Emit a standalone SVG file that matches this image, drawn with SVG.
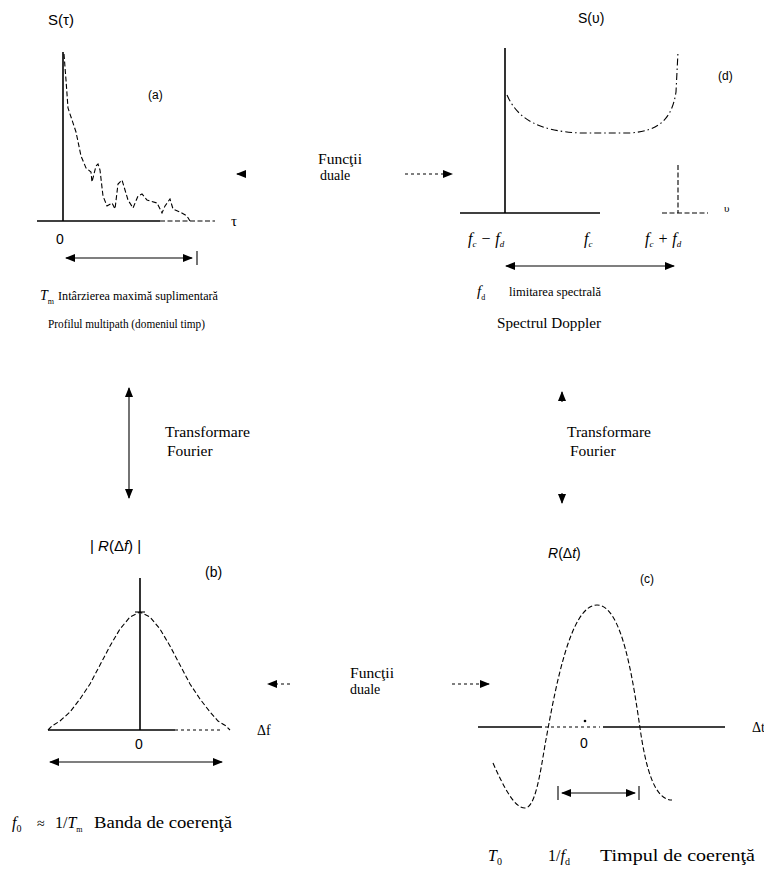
<svg xmlns="http://www.w3.org/2000/svg" width="764" height="872" viewBox="0 0 764 872">
<style>
.serif{font-family:"Liberation Serif","Times New Roman",serif;fill:#000}
.sans{font-family:"Liberation Sans",Arial,sans-serif;fill:#000}
.axis{stroke:#000;stroke-width:1.6;fill:none}
.thin{stroke:#000;stroke-width:1.1;fill:none}
.dash{stroke:#000;stroke-width:1.1;fill:none;stroke-dasharray:5 2.5}
.dashdot{stroke:#000;stroke-width:1.1;fill:none;stroke-dasharray:7 3 1.5 3}
.dot{stroke:#000;stroke-width:1.1;fill:none;stroke-dasharray:3 3}
.it{font-style:italic}
</style>
<defs>
<marker id="ah" viewBox="0 0 10 8" refX="9" refY="4" markerWidth="10" markerHeight="8" markerUnits="userSpaceOnUse" orient="auto-start-reverse">
<path d="M0,0 L10,4 L0,8 Z" fill="#000"/>
</marker>
</defs>

<g id="panel-a">
<text class="sans" x="48" y="25" font-size="15">S(τ)</text>
<text class="sans" x="148" y="99" font-size="12">(a)</text>
<line class="axis" x1="63" y1="52" x2="63" y2="221"/>
<line class="axis" x1="37" y1="221" x2="160" y2="221"/>
<line class="dash" x1="160" y1="221" x2="215" y2="221"/>
<text class="serif" x="231" y="226" font-size="15">τ</text>
<polyline class="dash" points="64,54 66,80 68,108 72,120 76,132 81,156 86,168 91,172 92,182 96,166 98,164 100,170 103,196 107,206 112,203 115,209 118,184 122,180 125,190 128,200 133,208 138,196 142,194 147,200 157,203 162,213 165,206 170,199 173,209 180,212 187,216 190,221"/>
<text class="sans" x="56" y="244" font-size="14">0</text>
<line class="thin" x1="66" y1="258" x2="192" y2="258" marker-start="url(#ah)" marker-end="url(#ah)"/>
<line class="thin" x1="197" y1="251" x2="197" y2="265"/>
<text class="serif it" x="40" y="300" font-size="14">T<tspan font-size="8" font-style="normal" dy="4">m</tspan></text>
<text class="serif" x="58" y="300" font-size="12.5" textLength="160" lengthAdjust="spacingAndGlyphs">Intârzierea maximă suplimentară</text>
<text class="serif" x="48" y="328" font-size="12" textLength="157" lengthAdjust="spacingAndGlyphs">Profilul multipath (domeniul timp)</text>
</g>

<g id="panel-d">
<text class="sans" x="578" y="23" font-size="14">S(υ)</text>
<text class="sans" x="718" y="80" font-size="12">(d)</text>
<line class="axis" x1="505" y1="48" x2="505" y2="213"/>
<line class="axis" x1="460" y1="213" x2="600" y2="213"/>
<line class="dash" x1="662" y1="213" x2="708" y2="213"/>
<line class="dash" x1="678" y1="165" x2="678" y2="213"/>
<text class="serif" x="724" y="212" font-size="11">υ</text>
<path class="dashdot" d="M507,95 C518,120 540,131 580,133 L630,133 C660,131 672,118 676,92 L678,52"/>
<text class="serif it" x="468" y="244" font-size="16">f<tspan font-size="9" dy="3">c</tspan><tspan dy="-3"> − f</tspan><tspan font-size="9" dy="3">d</tspan></text>
<text class="serif it" x="584" y="244" font-size="16">f<tspan font-size="9" dy="3">c</tspan></text>
<text class="serif it" x="645" y="244" font-size="16">f<tspan font-size="9" dy="3">c</tspan><tspan dy="-3"> + f</tspan><tspan font-size="9" dy="3">d</tspan></text>
<line class="thin" x1="506" y1="266" x2="674" y2="266" marker-start="url(#ah)" marker-end="url(#ah)"/>
<text class="serif it" x="477" y="296" font-size="15">f<tspan font-size="8" font-style="normal" dy="4">d</tspan></text>
<text class="serif" x="509" y="296" font-size="12.5" textLength="92" lengthAdjust="spacingAndGlyphs">limitarea spectrală</text>
<text class="serif" x="497" y="328" font-size="14.5" textLength="104" lengthAdjust="spacingAndGlyphs">Spectrul Doppler</text>
</g>

<g id="panel-b">
<text class="sans" x="90" y="551" font-size="15">| <tspan class="it">R</tspan>(Δ<tspan class="it">f</tspan>) |</text>
<text class="sans" x="205" y="577" font-size="14">(b)</text>
<line class="axis" x1="140" y1="578" x2="140" y2="730"/>
<line class="axis" x1="48" y1="730" x2="175" y2="730"/>
<line class="dot" x1="175" y1="730" x2="222" y2="730"/>
<line class="thin" x1="135" y1="612" x2="145" y2="612"/>
<polyline class="dash" points="48,730 52,726 60,721 70,712 80,699 90,684 100,665 110,646 120,629 130,617 140,612 150,617 160,629 170,646 180,665 190,684 200,699 210,712 218,721 226,726 230,730"/>
<text class="sans" x="135" y="749" font-size="14">0</text>
<line class="thin" x1="50" y1="762" x2="222" y2="762" marker-start="url(#ah)" marker-end="url(#ah)"/>
<text class="serif" x="257" y="735" font-size="14">Δf</text>
<text class="serif it" x="12" y="828" font-size="16">f<tspan font-size="10" font-style="normal" dy="4">0</tspan></text>
<text class="serif" x="37" y="828" font-size="14">≈</text>
<text class="serif" x="55" y="828" font-size="16">1/<tspan class="it">T</tspan><tspan font-size="8" dy="4">m</tspan></text>
<text class="serif" x="94" y="828" font-size="16" textLength="138" lengthAdjust="spacingAndGlyphs">Banda de coerenţă</text>
</g>

<g id="panel-c">
<text class="sans" x="548" y="558" font-size="14"><tspan class="it">R</tspan>(Δ<tspan class="it">t</tspan>)</text>
<text class="sans" x="640" y="583" font-size="12">(c)</text>
<line class="axis" x1="478" y1="727" x2="542" y2="727"/>
<line class="dot" x1="545" y1="727" x2="600" y2="727"/>
<line class="axis" x1="603" y1="727" x2="725" y2="727"/>
<circle cx="585" cy="721" r="1.3" fill="#000"/>
<text class="sans" x="580" y="748" font-size="14">0</text>
<text class="serif" x="752" y="732" font-size="14">Δt</text>
<path class="dash" d="M493,763 C505,790 515,808 525,808 C535,808 540,775 545,745 C555,690 570,605 597,605 C622,605 633,680 640,728 C646,770 655,800 672,800"/>
<line class="thin" x1="562" y1="793" x2="635" y2="793" marker-start="url(#ah)" marker-end="url(#ah)"/>
<line class="thin" x1="558" y1="786" x2="558" y2="800"/>
<line class="thin" x1="639" y1="786" x2="639" y2="800"/>
<text class="serif it" x="488" y="861" font-size="16">T<tspan font-size="10" font-style="normal" dy="4">0</tspan></text>
<text class="serif" x="548" y="861" font-size="16">1/<tspan class="it">f</tspan><tspan font-size="10" dy="4">d</tspan></text>
<text class="serif" x="600" y="861" font-size="16" textLength="155" lengthAdjust="spacingAndGlyphs">Timpul de coerenţă</text>
</g>

<g id="label-dual-top">
<text class="serif" x="318" y="164" font-size="15" textLength="44" lengthAdjust="spacingAndGlyphs">Funcţii</text>
<text class="serif" x="320" y="180" font-size="14">duale</text>
</g>
<g id="label-dual-bottom">
<text class="serif" x="350" y="678" font-size="15" textLength="44" lengthAdjust="spacingAndGlyphs">Funcţii</text>
<text class="serif" x="350" y="694" font-size="14">duale</text>
</g>
<g id="label-fourier-left">
<text class="serif" x="165" y="437" font-size="15.5" textLength="85" lengthAdjust="spacingAndGlyphs">Transformare</text>
<text class="serif" x="167" y="456" font-size="15.5">Fourier</text>
</g>
<g id="label-fourier-right">
<text class="serif" x="567" y="437" font-size="15.5" textLength="84" lengthAdjust="spacingAndGlyphs">Transformare</text>
<text class="serif" x="570" y="456" font-size="15.5">Fourier</text>
</g>

<g id="connectors">
<line class="thin" x1="246" y1="174" x2="237" y2="174" marker-end="url(#ah)"/>
<line class="dot" x1="405" y1="174" x2="452" y2="174" marker-end="url(#ah)"/>
<line class="thin" x1="129" y1="388" x2="129" y2="498" marker-start="url(#ah)" marker-end="url(#ah)"/>
<line class="thin" x1="562" y1="402" x2="562" y2="392" marker-end="url(#ah)"/>
<line class="thin" x1="562" y1="493" x2="562" y2="503" marker-end="url(#ah)"/>
<line class="dot" x1="290" y1="684" x2="268" y2="684" marker-end="url(#ah)"/>
<line class="dot" x1="452" y1="684" x2="489" y2="684" marker-end="url(#ah)"/>
</g>
</svg>
